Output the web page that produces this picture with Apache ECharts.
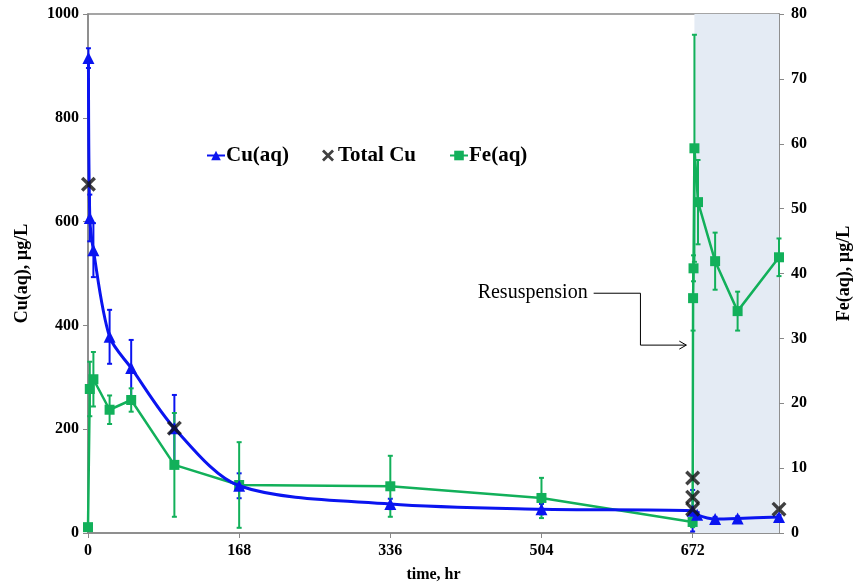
<!DOCTYPE html>
<html>
<head>
<meta charset="utf-8">
<script src="https://cdn.jsdelivr.net/npm/echarts@6/dist/echarts.min.js"></script>
<style>
  html, body { margin: 0; padding: 0; background: #fff; }
  #chart { width: 853px; height: 586px; }
</style>
</head>
<body>
<div id="chart"></div>
<script>
// time ticks on the x axis
const timeTicks = [0, 168, 336, 504, 672];

// dissolved copper, ug/L (left axis)
const cuTime = [0.5, 2, 6, 24, 48, 96, 168, 336, 504, 672, 677, 697, 722, 768];
const cuVal  = [915, 607, 545, 378, 318, 202, 91, 56, 46, 43, 35, 27, 28, 31];
const cuErr  = [19, 45, 52, 52, 54, 64, 24, 10, 10, 40, 5, 4, 4, 4];

// total copper, ug/L (left axis)
const totalCuTime = [0.5, 96, 672, 672, 672, 768];
const totalCuVal  = [672, 202, 106, 69, 46, 46];

// dissolved iron, ug/L (right axis)
const feTime = [0, 2, 6, 24, 48, 96, 168, 336, 504, 672, 672.5, 673, 674, 678, 697, 722, 768];
const feVal  = [0.9, 22.2, 23.7, 19.0, 20.5, 10.5, 7.4, 7.2, 5.4, 1.7, 36.2, 40.8, 59.3, 51.0, 41.9, 34.2, 42.5];
const feErr  = [0, 4.2, 4.2, 2.2, 1.8, 8, 6.6, 4.7, 3.1, 0.8, 5, 2, 17.5, 6.5, 4.4, 3, 2.9];

// resuspension period (shaded)
const resuspension = [674, 768];

const BLUE = '#0a14f0';
const GREEN = '#12b05a';
const FONT = '"Liberation Serif", "Times New Roman", serif';

const chart = echarts.init(document.getElementById('chart'));

function pairs(xs, ys) {
  return xs.map((x, i) => [x, ys[i]]);
}

function errData(xs, ys, es) {
  return xs.map((x, i) => [x, ys[i] - es[i], ys[i] + es[i]]);
}

function errorBar(color) {
  return function (params, api) {
    const lo = api.coord([api.value(0), api.value(1)]);
    const hi = api.coord([api.value(0), api.value(2)]);
    const cap = 2.5;
    const style = { stroke: color, lineWidth: 2, fill: null };
    return {
      type: 'group',
      children: [
        { type: 'line', shape: { x1: lo[0], y1: lo[1], x2: hi[0], y2: hi[1] }, style },
        { type: 'line', shape: { x1: lo[0] - cap, y1: lo[1], x2: lo[0] + cap, y2: lo[1] }, style },
        { type: 'line', shape: { x1: hi[0] - cap, y1: hi[1], x2: hi[0] + cap, y2: hi[1] }, style }
      ]
    };
  };
}

const xMark = 'path://M0,1.6L1.6,0L5,3.4L8.4,0L10,1.6L6.6,5L10,8.4L8.4,10L5,6.6L1.6,10L0,8.4L3.4,5Z';

const axisText = { fontFamily: FONT, fontWeight: 'bold', fontSize: 16, color: '#000' };
const axisLine = { show: true, lineStyle: { color: '#888', width: 1.5 } };

const option = {
  animation: false,
  backgroundColor: '#fff',
  textStyle: { fontFamily: FONT },
  grid: {
    left: 88, right: 74, top: 14, bottom: 53,
    containLabel: false, outerBoundsMode: 'none',
    show: true, borderColor: '#888', borderWidth: 1.5
  },
  legend: {
    left: 201,
    top: 140,
    itemGap: 33,
    itemWidth: 18,
    itemHeight: 12,
    textStyle: { fontFamily: FONT, fontWeight: 'bold', fontSize: 21, color: '#000', padding: [0, 0, 0, -4] },
    data: ['Cu(aq)', 'Total Cu', 'Fe(aq)']
  },
  xAxis: {
    type: 'value',
    min: 0,
    max: 768,
    interval: 168,
    name: 'time, hr',
    nameLocation: 'middle',
    nameGap: 34,
    nameTextStyle: axisText,
    axisLine,
    axisTick: { show: true, length: 5, lineStyle: { color: '#888' } },
    axisLabel: Object.assign({ margin: 10, showMaxLabel: false,
      formatter: v => (timeTicks.indexOf(v) >= 0 ? String(v) : '') }, axisText),
    splitLine: { show: false }
  },
  yAxis: [
    {
      type: 'value',
      min: 0,
      max: 1000,
      interval: 200,
      name: 'Cu(aq), µg/L',
      nameLocation: 'middle',
      nameGap: 57,
      nameTextStyle: Object.assign({}, axisText, { fontSize: 18 }),
      axisLine,
      axisTick: { show: true, length: 5, lineStyle: { color: '#888' } },
      axisLabel: Object.assign({ margin: 9, formatter: v => String(v) }, axisText),
      splitLine: { show: false }
    },
    {
      type: 'value',
      min: 0,
      max: 80,
      interval: 10,
      name: 'Fe(aq), µg/L',
      nameLocation: 'middle',
      nameGap: 56,
      nameRotate: 90,
      nameTextStyle: Object.assign({}, axisText, { fontSize: 18 }),
      axisLine,
      axisTick: { show: true, length: 5, lineStyle: { color: '#888' } },
      axisLabel: Object.assign({ margin: 12 }, axisText),
      splitLine: { show: false }
    }
  ],
  series: [
    {
      name: 'shade',
      type: 'line',
      data: [],
      silent: true,
      markArea: {
        silent: true,
        itemStyle: { color: '#e4ebf4' },
        data: [[{ xAxis: resuspension[0] }, { xAxis: resuspension[1] }]]
      }
    },
    {
      name: 'cuErr',
      type: 'custom',
      renderItem: errorBar(BLUE),
      data: errData(cuTime, cuVal, cuErr),
      encode: { x: 0, y: [1, 2] },
      z: 3
    },
    {
      name: 'feErr',
      type: 'custom',
      yAxisIndex: 1,
      renderItem: errorBar(GREEN),
      data: errData(feTime, feVal, feErr),
      encode: { x: 0, y: [1, 2] },
      z: 3
    },
    {
      name: 'Fe(aq)',
      type: 'line',
      yAxisIndex: 1,
      data: pairs(feTime, feVal),
      symbol: 'rect',
      symbolSize: 10,
      lineStyle: { color: GREEN, width: 2.5 },
      itemStyle: { color: GREEN },
      z: 4
    },
    {
      name: 'Cu(aq)',
      type: 'line',
      data: pairs(cuTime, cuVal),
      smooth: 0.3,
      symbol: 'triangle',
      symbolSize: 12,
      lineStyle: { color: BLUE, width: 3 },
      itemStyle: { color: BLUE },
      z: 5
    },
    {
      name: 'Total Cu',
      type: 'scatter',
      data: pairs(totalCuTime, totalCuVal),
      symbol: xMark,
      symbolSize: 15,
      itemStyle: { color: '#111' },
      z: 6
    }
  ]
};

chart.setOption(option);

// "Resuspension" callout, placed in data coordinates
const p = v => chart.convertToPixel({ xAxisIndex: 0, yAxisIndex: 0 }, v);
const start = p([562, 462]);
const corner = p([614, 462]);
const bend = p([614, 362]);
const tip = p([665, 362]);
chart.setOption({
  graphic: [
    {
      type: 'text',
      x: start[0] - 6,
      y: start[1],
      style: { text: 'Resuspension', font: '20px ' + FONT, fill: '#000', align: 'right', verticalAlign: 'middle' }
    },
    {
      type: 'polyline',
      shape: { points: [start, corner, bend, tip] },
      style: { stroke: '#000', lineWidth: 1, fill: null }
    },
    {
      type: 'polyline',
      shape: { points: [[tip[0] - 7, tip[1] - 4], tip, [tip[0] - 7, tip[1] + 4]] },
      style: { stroke: '#000', lineWidth: 1, fill: null }
    }
  ]
});
</script>
</body>
</html>
